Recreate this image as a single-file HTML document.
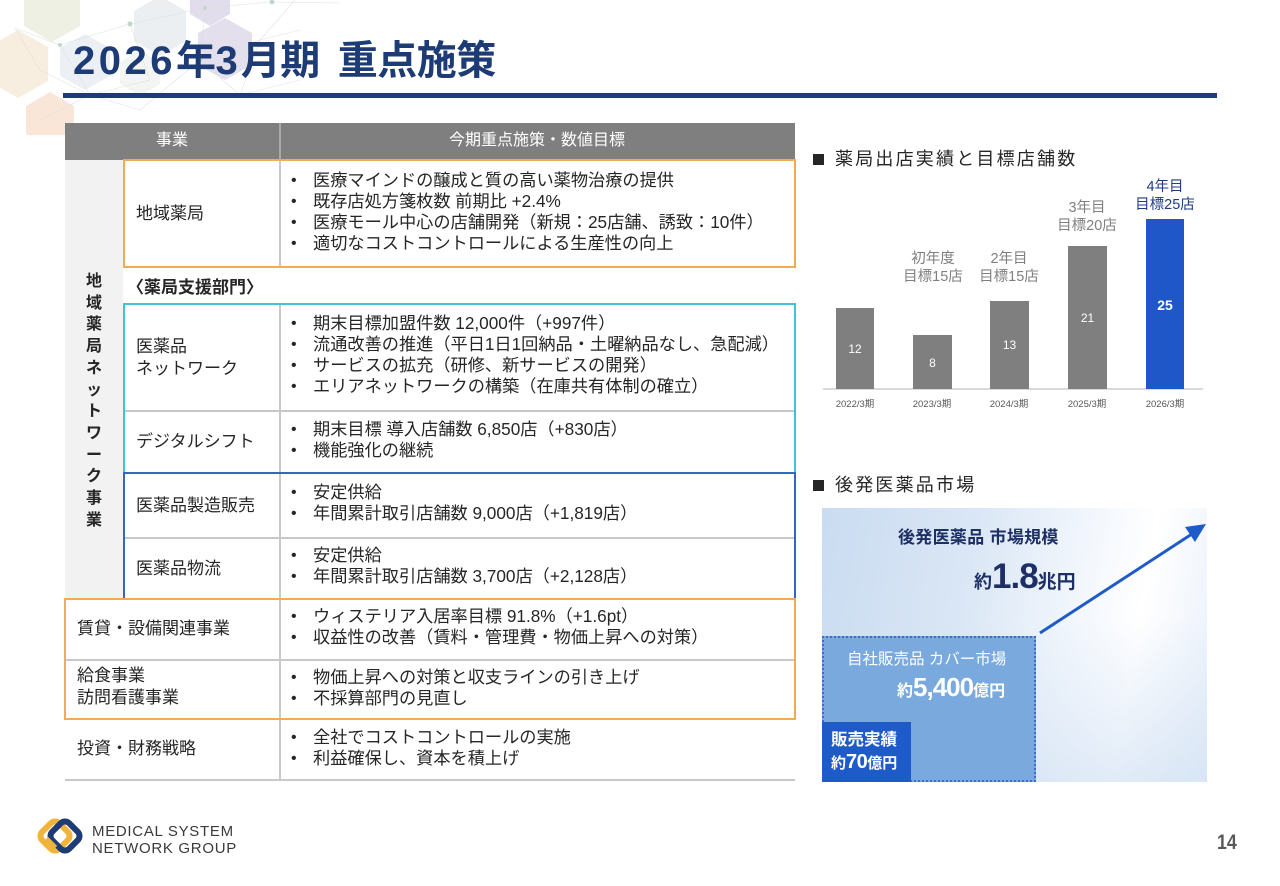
<!DOCTYPE html>
<html><head><meta charset="utf-8">
<style>
*{margin:0;padding:0;box-sizing:border-box}
body{width:1280px;height:886px;background:#fff;position:relative;overflow:hidden;font-family:"Liberation Sans","Noto Sans CJK JP",sans-serif;color:#262626}
.a{position:absolute;white-space:nowrap}
.t17{font-size:17px;line-height:21px}
.bl{position:absolute;left:289px;font-size:17.2px;line-height:21px;white-space:nowrap}
.bl div{position:relative;padding-left:24px}
.bl div:before{content:"•";position:absolute;left:2px;top:0;font-family:"Liberation Sans",sans-serif;font-size:16px}
.hl{position:absolute;height:1.5px;background:#c8c8c8}
.vl{position:absolute;width:1.5px;background:#c8c8c8}
.box{position:absolute;border:2px solid}
.sq{display:inline-block;width:11px;height:11px;background:#262626;margin-right:11px;vertical-align:0px}
</style></head><body>

<!-- decoration -->
<svg class="a" style="left:0;top:0" width="520" height="135" viewBox="0 0 520 135">
<g opacity="0.7">
<polygon points="52,-22 80,-6 80,26 52,42 24,26 24,-6" fill="#e6ead8"/>
<polygon points="160,-4 186,11 186,41 160,56 134,41 134,11" fill="#e3e9ec"/>
<polygon points="225,18 252,33 252,65 225,80 198,65 198,33" fill="#d8d2e6"/>
<polygon points="210,-20 230,-8 230,14 210,26 190,14 190,-8" fill="#d6d0e4"/>
<polygon points="18,30 48,47 48,81 18,98 -12,81 -12,47" fill="#f6e7d4"/>
<polygon points="85,34 110,48 110,76 85,90 60,76 60,48" fill="#e4ebf1"/>
<polygon points="50,92 74,106 74,134 50,148 26,134 26,106" fill="#f8dcc9"/>
<polygon points="140,50 160,62 160,84 140,96 120,84 120,62" fill="#eef1ee"/>
</g>
<g stroke="#d3dfd8" stroke-width="0.6" fill="none" opacity="0.8">
<path d="M15,28 L60,45 L130,24 L205,8 L270,2 L340,3"/>
<path d="M60,45 L90,95 L140,110 L200,60 L260,40 L300,30"/>
<path d="M130,24 L150,80 L90,95 L40,120"/>
<path d="M205,8 L200,60 L240,95 L300,80"/>
<path d="M15,28 L40,70 L90,95"/>
<path d="M260,40 L295,0 M240,95 L260,40"/>
</g>
<g fill="#c3d6cb"><circle cx="60" cy="45" r="2"/><circle cx="130" cy="24" r="2.5"/><circle cx="205" cy="8" r="2"/><circle cx="90" cy="95" r="2"/><circle cx="200" cy="60" r="2"/><circle cx="272" cy="2" r="2.5"/></g>
</svg>

<!-- title -->
<div class="a" style="left:73px;top:41px;font-size:40px;line-height:40px;font-weight:bold;color:#1d3b74;letter-spacing:-0.5px"><span style="letter-spacing:3.5px">2026</span>年<span style="letter-spacing:3px">3</span>月期<span style="display:inline-block;width:18px"></span>重点施策</div>
<div class="a" style="left:63px;top:93px;width:1154px;height:4.5px;background:#1d3b74"></div>

<!-- table -->
<div class="a" style="left:65px;top:123px;width:730px;height:37px;background:#7f7f7f"></div>
<div class="a" style="left:279px;top:123px;width:1.5px;height:37px;background:#a9a9a9"></div>
<div class="a" style="left:65px;top:131px;width:214px;text-align:center;font-size:16px;line-height:20px;color:#fff">事業</div>
<div class="a" style="left:279px;top:131px;width:516px;text-align:center;font-size:16px;line-height:20px;color:#fff">今期重点施策・数値目標</div>

<div class="a" style="left:65px;top:160px;width:58px;height:439px;background:#f2f2f2"></div>
<div class="a" style="left:84px;top:271px;width:20px;font-size:16px;line-height:21.7px;font-weight:bold;white-space:normal;text-align:center;color:#262626">地<br>域<br>薬<br>局<br>ネ<br>ッ<br>ト<br>ワ<br>ー<br>ク<br>事<br>業</div>

<!-- grid lines -->
<div class="vl" style="left:279px;top:160px;height:107px"></div>
<div class="vl" style="left:279px;top:304px;height:475px"></div>
<div class="hl" style="left:123px;top:410px;width:672px"></div>
<div class="hl" style="left:123px;top:537px;width:672px"></div>
<div class="hl" style="left:65px;top:659px;width:730px"></div>
<div class="hl" style="left:65px;top:779px;width:730px"></div>

<!-- colored boxes -->
<div class="box" style="left:123px;top:159px;width:673px;height:109px;border-color:#efab58"></div>
<div class="box" style="left:123px;top:303px;width:673px;height:171px;border-color:#3ec3d7"></div>
<div class="box" style="left:123px;top:472px;width:673px;height:128px;border-color:#3765c0"></div>
<div class="box" style="left:64px;top:598px;width:732px;height:122px;border-color:#efab58"></div>

<!-- row texts -->
<div class="a t17" style="left:136px;top:203px">地域薬局</div>
<div class="bl" style="top:170px"><div>医療マインドの醸成と質の高い薬物治療の提供</div><div>既存店処方箋枚数 前期比 +2.4%</div><div>医療モール中心の店舗開発（新規：25店舗、誘致：10件）</div><div>適切なコストコントロールによる生産性の向上</div></div>

<div class="a t17" style="left:127px;top:277px;font-weight:bold">〈薬局支援部門〉</div>

<div class="a" style="left:136px;top:336px;font-size:17px;line-height:22px">医薬品<br>ネットワーク</div>
<div class="bl" style="top:313px"><div>期末目標加盟件数 12,000件（+997件）</div><div>流通改善の推進（平日1日1回納品・土曜納品なし、急配減）</div><div>サービスの拡充（研修、新サービスの開発）</div><div>エリアネットワークの構築（在庫共有体制の確立）</div></div>

<div class="a t17" style="left:136px;top:431px">デジタルシフト</div>
<div class="bl" style="top:419px"><div>期末目標 導入店舗数 6,850店（+830店）</div><div>機能強化の継続</div></div>

<div class="a t17" style="left:136px;top:495px">医薬品製造販売</div>
<div class="bl" style="top:482px"><div>安定供給</div><div>年間累計取引店舗数 9,000店（+1,819店）</div></div>

<div class="a t17" style="left:136px;top:558px">医薬品物流</div>
<div class="bl" style="top:545px"><div>安定供給</div><div>年間累計取引店舗数 3,700店（+2,128店）</div></div>

<div class="a t17" style="left:77px;top:618px">賃貸・設備関連事業</div>
<div class="bl" style="top:606px"><div>ウィステリア入居率目標 91.8%（+1.6pt）</div><div>収益性の改善（賃料・管理費・物価上昇への対策）</div></div>

<div class="a" style="left:77px;top:665px;font-size:17px;line-height:22px">給食事業<br>訪問看護事業</div>
<div class="bl" style="top:667px"><div>物価上昇への対策と収支ラインの引き上げ</div><div>不採算部門の見直し</div></div>

<div class="a t17" style="left:77px;top:738px">投資・財務戦略</div>
<div class="bl" style="top:727px"><div>全社でコストコントロールの実施</div><div>利益確保し、資本を積上げ</div></div>

<!-- bar chart -->
<div class="a" style="left:813px;top:149px;font-size:18px;line-height:20px;letter-spacing:2.2px;color:#262626"><span class="sq"></span>薬局出店実績と目標店舗数</div>

<div class="a" style="left:823px;top:388px;width:380px;height:1.5px;background:#d9d9d9"></div>
<div class="a" style="left:836px;top:308px;width:38px;height:81px;background:#7f7f7f"></div>
<div class="a" style="left:913px;top:335px;width:39px;height:54px;background:#7f7f7f"></div>
<div class="a" style="left:990px;top:301px;width:39px;height:88px;background:#7f7f7f"></div>
<div class="a" style="left:1068px;top:246px;width:39px;height:143px;background:#7f7f7f"></div>
<div class="a" style="left:1146px;top:219px;width:38px;height:170px;background:#1f57c9"></div>

<div class="a" style="left:836px;top:343px;width:38px;text-align:center;font-size:12px;line-height:12px;color:#fff">12</div>
<div class="a" style="left:913px;top:357px;width:39px;text-align:center;font-size:12px;line-height:12px;color:#fff">8</div>
<div class="a" style="left:990px;top:339px;width:39px;text-align:center;font-size:12px;line-height:12px;color:#fff">13</div>
<div class="a" style="left:1068px;top:312px;width:39px;text-align:center;font-size:12px;line-height:12px;color:#fff">21</div>
<div class="a" style="left:1146px;top:298px;width:38px;text-align:center;font-size:14px;line-height:14px;font-weight:bold;color:#fff">25</div>

<div class="a" style="left:880px;top:250px;width:106px;text-align:center;font-size:14.5px;line-height:18px;color:#7f7f7f">初年度<br>目標15店</div>
<div class="a" style="left:956px;top:250px;width:106px;text-align:center;font-size:14.5px;line-height:18px;color:#7f7f7f">2年目<br>目標15店</div>
<div class="a" style="left:1034px;top:199px;width:106px;text-align:center;font-size:14.5px;line-height:18px;color:#7f7f7f">3年目<br>目標20店</div>
<div class="a" style="left:1112px;top:179px;width:106px;text-align:center;font-size:14.5px;line-height:17.5px;color:#1f3b82">4年目<br>目標25店</div>

<div class="a" style="left:815px;top:399px;width:80px;text-align:center;font-size:9.5px;line-height:11px;color:#595959">2022/3期</div>
<div class="a" style="left:892px;top:399px;width:80px;text-align:center;font-size:9.5px;line-height:11px;color:#595959">2023/3期</div>
<div class="a" style="left:969px;top:399px;width:80px;text-align:center;font-size:9.5px;line-height:11px;color:#595959">2024/3期</div>
<div class="a" style="left:1047px;top:399px;width:80px;text-align:center;font-size:9.5px;line-height:11px;color:#595959">2025/3期</div>
<div class="a" style="left:1125px;top:399px;width:80px;text-align:center;font-size:9.5px;line-height:11px;color:#595959">2026/3期</div>

<!-- market -->
<div class="a" style="left:813px;top:475px;font-size:18px;line-height:20px;letter-spacing:2.2px;color:#262626"><span class="sq"></span>後発医薬品市場</div>

<div class="a" style="left:822px;top:508px;width:385px;height:274px;background:linear-gradient(100deg,#cadcf1 0%,#d9e6f5 35%,#f4f8fd 65%,#ffffff 78%,#e8f0fa 100%)"></div>
<div class="a" style="left:822px;top:508px;width:385px;height:274px;background:linear-gradient(180deg,rgba(255,255,255,0) 40%,rgba(205,222,242,0.6) 100%)"></div>

<div class="a" style="left:822px;top:636px;width:214px;height:146px;background:#79a9dd;border:2px dotted #3e6cc2"></div>
<div class="a" style="left:822px;top:722px;width:89px;height:60px;background:#1f5bc8"></div>

<svg class="a" style="left:1030px;top:515px" width="185" height="125" viewBox="0 0 185 125">
<line x1="10" y1="118" x2="165" y2="17" stroke="#1f5bc8" stroke-width="3"/>
<polygon points="176,9 155,12 165,27" fill="#1f5bc8"/>
</svg>

<div class="a" style="left:898px;top:528px;font-size:17px;line-height:19px;font-weight:bold;color:#1e2f66;letter-spacing:0.3px">後発医薬品 市場規模</div>
<div class="a" style="left:974px;top:559px;font-weight:bold;color:#1e2f66;line-height:36px;height:36px"><span style="font-size:18px">約</span><span style="font-size:35px;letter-spacing:-1px">1.8</span><span style="font-size:19px">兆円</span></div>

<div class="a" style="left:847px;top:651px;font-size:15.5px;line-height:18px;color:#fff">自社販売品 カバー市場</div>
<div class="a" style="left:897px;top:673px;font-weight:bold;color:#fff;line-height:28px;height:28px"><span style="font-size:16px">約</span><span style="font-size:26px;letter-spacing:-1px">5,400</span><span style="font-size:16px">億円</span></div>

<div class="a" style="left:831px;top:731px;font-size:16.5px;line-height:18px;font-weight:bold;color:#fff">販売実績</div>
<div class="a" style="left:831px;top:751px;font-weight:bold;color:#fff;line-height:22px;height:22px"><span style="font-size:15px">約</span><span style="font-size:20px;letter-spacing:-0.5px">70</span><span style="font-size:15px">億円</span></div>

<!-- logo -->
<svg class="a" style="left:34px;top:814px" width="52" height="48" viewBox="0 0 52 48">
<rect x="9" y="10" width="24" height="24" rx="6" transform="rotate(45 21 22)" fill="none" stroke="#f0b43c" stroke-width="6"/>
<rect x="19" y="10" width="24" height="24" rx="6" transform="rotate(45 31 22)" fill="none" stroke="#1d3b74" stroke-width="6"/>
<path d="M12,25 L21,34" stroke="#f0b43c" stroke-width="6" fill="none"/>
</svg>
<div class="a" style="left:92px;top:824px;font-size:15px;line-height:16.5px;letter-spacing:0.7px;color:#3a3a3a">MEDICAL SYSTEM<br>NETWORK GROUP</div>

<div class="a" style="left:1217px;top:832px;font-size:21px;line-height:21px;font-weight:bold;color:#595959;transform:scaleX(0.85);transform-origin:left top">14</div>

</body></html>
